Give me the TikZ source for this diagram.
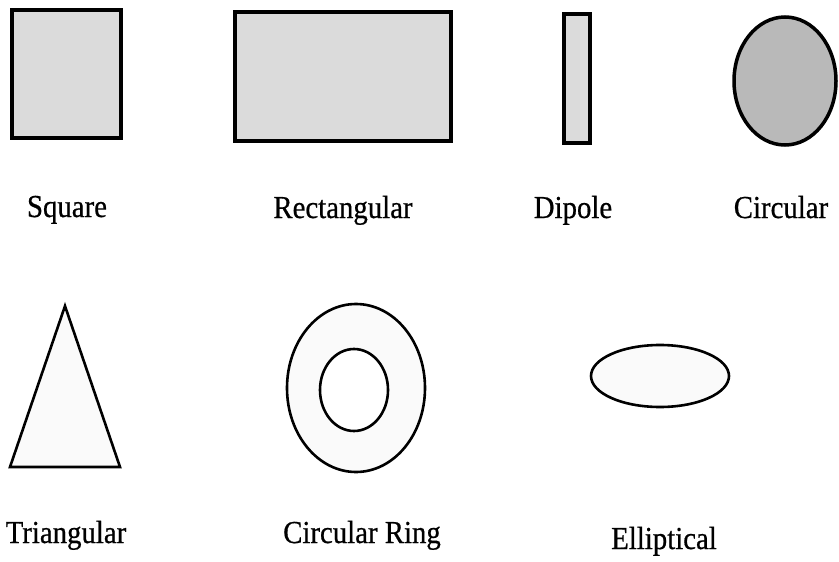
\documentclass[tikz,border=0pt]{standalone}
\usepackage{fontspec}
\setmainfont{Liberation Serif}
\newfontfamily\capfont{Liberation Serif}[FakeStretch=0.9, FakeBold=0.6]
\usetikzlibrary{positioning}

\tikzset{
  patch/.style={draw=black, line width=3.5pt, fill=gray!28},
  dark patch/.style={draw=black, line width=3.5pt, fill=gray!55},
  open patch/.style={draw=black, line width=2.6pt, fill=gray!4},
  caption/.style={font=\capfont\fontsize{32}{36}\selectfont, anchor=base, inner sep=0pt}
}

\begin{document}
\begin{tikzpicture}[x=1pt, y=-1pt]
\useasboundingbox (0,0) rectangle (839,562);

% Top row: filled patches
\draw[patch] (12,10) rectangle (121,138);
\draw[patch] (235,12) rectangle (451,141);
\draw[patch] (564,14) rectangle (590,143);
\draw[dark patch] (785,81) ellipse (51 and 64);

\node[caption] (square) at (67,217) {Square};
\node[caption] (rectangular) at (343,218) {Rectangular};
\node[caption] (dipole) at (573,218) {Dipole};
\node[caption] (circular) at (781,218) {Circular};

% Bottom row: outlined patches
\draw[open patch, line join=miter] (65,306) -- (120,467) -- (10,467) -- cycle;
\draw[open patch] (356,388) ellipse (69 and 84);
\draw[open patch, fill=white] (354,390) ellipse (34 and 41);
\draw[open patch] (660,376) ellipse (69 and 31);

\node[caption] (triangular) at (66,543) {Triangular};
\node[caption] (ring) at (362,543) {Circular Ring};
\node[caption] (elliptical) at (664,549) {Elliptical};

\end{tikzpicture}
\end{document}
